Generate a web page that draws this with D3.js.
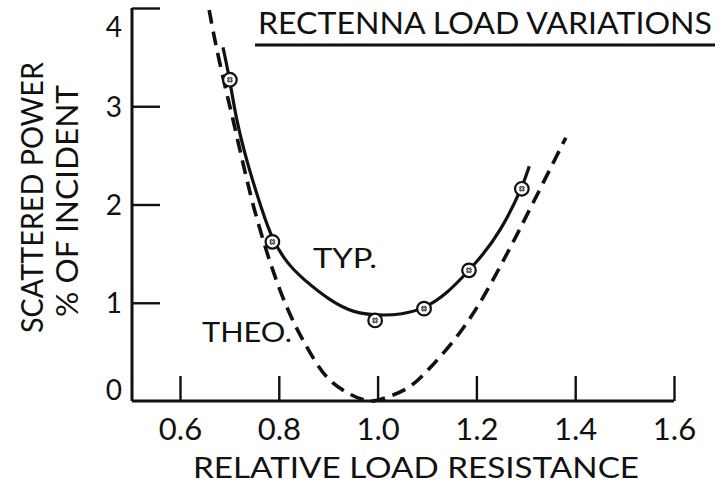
<!DOCTYPE html>
<html>
<head>
<meta charset="utf-8">
<script src="https://cdn.jsdelivr.net/npm/d3@7"></script>
<style>
  html, body { margin: 0; padding: 0; background: #fff; }
  svg { display: block; }
  text { font-family: Lato, "Noto Sans", sans-serif; fill: #111; }
</style>
</head>
<body>
<svg id="chart" width="725" height="485"></svg>
<script>
// ---- data ----
const xTicks = [0.6, 0.8, 1.0, 1.2, 1.4, 1.6];
const xTickLabels = ["0.6", "0.8", "1.0", "1.2", "1.4", "1.6"];
const yTicks = [0, 1, 2, 3, 4];
const yTickLabels = ["0", "1", "2", "3", "4"];

// TYP. (measured, solid fitted curve)
const typX = [0.687, 0.701, 0.713, 0.736, 0.766, 0.787, 0.817, 0.849, 0.904, 0.95, 1.0, 1.05, 1.094, 1.14, 1.185, 1.21, 1.248, 1.292, 1.307];
const typY = [3.60, 3.27, 2.88, 2.42, 1.94, 1.64, 1.40, 1.24, 1.02, 0.90, 0.87, 0.88, 0.94, 1.09, 1.33, 1.47, 1.72, 2.16, 2.39];

// measured data points (circles)
const ptX = [0.701, 0.787, 0.995, 1.094, 1.185, 1.292];
const ptY = [3.27, 1.62, 0.82, 0.94, 1.33, 2.16];

// THEO. (dashed curve)
const theoX = [0.659, 0.672, 0.690, 0.707, 0.728, 0.750, 0.782, 0.815, 0.849, 0.898, 0.944, 0.985, 1.02, 1.066, 1.112, 1.167, 1.207, 1.262, 1.315, 1.381];
const theoY = [3.98, 3.64, 3.23, 2.87, 2.41, 1.96, 1.42, 0.97, 0.62, 0.24, 0.07, 0.0, 0.04, 0.15, 0.37, 0.70, 1.00, 1.50, 2.02, 2.68];

const title = "RECTENNA LOAD VARIATIONS";
const xTitle = "RELATIVE LOAD RESISTANCE";
const yTitle1 = "SCATTERED POWER";
const yTitle2 = "% OF INCIDENT";
const typLabel = "TYP.";
const theoLabel = "THEO.";

// ---- drawing ----
const svg = d3.select("#chart");
const x = d3.scaleLinear().domain([0.6, 1.6]).range([180, 674]);
const y = d3.scaleLinear().domain([0, 4]).range([401, 8]);
const axisX0 = 132; // position of the y axis line

const smoothLine = d3.line().curve(d3.curveBasis);
const throughLine = d3.line().curve(d3.curveCatmullRom.alpha(0.5));

svg.append("path")
  .attr("d", throughLine(theoX.map((v, i) => [x(v), y(theoY[i])])))
  .attr("fill", "none").attr("stroke", "#111")
  .attr("stroke-width", 3.6)
  .attr("stroke-dasharray", "14,8");

svg.append("path")
  .attr("d", smoothLine(typX.map((v, i) => [x(v), y(typY[i])])))
  .attr("fill", "none").attr("stroke", "#111")
  .attr("stroke-width", 3.2);

// data point circles
const pts = svg.append("g");
ptX.forEach((v, i) => {
  const cx = x(v), cy = y(ptY[i]);
  pts.append("circle").attr("cx", cx).attr("cy", cy).attr("r", 6.8)
    .attr("fill", "#fff").attr("stroke", "#111").attr("stroke-width", 2.2);
  pts.append("path")
    .attr("transform", `translate(${cx},${cy}) rotate(45)`)
    .attr("d", d3.symbol(d3.symbolCross, 14)())
    .attr("fill", "none").attr("stroke", "#333").attr("stroke-width", 1);
});

// x axis
const gx = svg.append("g").attr("transform", `translate(0,${y(0)})`)
  .call(d3.axisBottom(x).tickValues(xTicks).tickSize(-25).tickSizeOuter(0)
    .tickFormat((d, i) => xTickLabels[i]));
gx.select(".domain").remove();
gx.selectAll(".tick line").attr("stroke", "#111").attr("stroke-width", 2.4);
gx.selectAll(".tick text").attr("y", 39).attr("dy", "0")
  .style("font-family", "Lato, sans-serif").style("font-size", "31px").attr("fill", "#111");
svg.append("line").attr("x1", axisX0).attr("x2", x(1.6))
  .attr("y1", y(0)).attr("y2", y(0)).attr("stroke", "#111").attr("stroke-width", 3);

// y axis
const gy = svg.append("g").attr("transform", `translate(${axisX0},0)`)
  .call(d3.axisLeft(y).tickValues(yTicks).tickSize(-28).tickSizeOuter(0)
    .tickFormat((d, i) => yTickLabels[i]));
gy.select(".domain").remove();
gy.selectAll(".tick line").attr("stroke", "#111").attr("stroke-width", 2.4);
gy.selectAll(".tick text").attr("x", -10)
  .attr("dy", d => d === 4 ? "1.0em" : (d === 0 ? "-0.05em" : "0.35em"))
  .style("font-family", "Lato, sans-serif").style("font-size", "28px").attr("fill", "#111");
gy.selectAll(".tick").filter(d => d === 0).select("line").remove();
svg.append("line").attr("x1", axisX0).attr("x2", axisX0)
  .attr("y1", y(4)).attr("y2", y(0)).attr("stroke", "#111").attr("stroke-width", 3);

// titles
svg.append("text").attr("x", 258).attr("y", 34)
  .attr("textLength", 454).attr("lengthAdjust", "spacingAndGlyphs")
  .style("font-size", "31px").text(title);
svg.append("line").attr("x1", 255).attr("x2", 715).attr("y1", 45).attr("y2", 45)
  .attr("stroke", "#111").attr("stroke-width", 3);

svg.append("text").attr("x", 193).attr("y", 478)
  .attr("textLength", 446).attr("lengthAdjust", "spacingAndGlyphs")
  .style("font-size", "29px").text(xTitle);

svg.append("text").attr("transform", "translate(43,333) rotate(-90)")
  .attr("textLength", 271).attr("lengthAdjust", "spacingAndGlyphs")
  .style("font-size", "30px").text(yTitle1);
svg.append("text").attr("transform", "translate(78,317) rotate(-90)")
  .attr("textLength", 232).attr("lengthAdjust", "spacingAndGlyphs")
  .style("font-size", "30px").text(yTitle2);

// curve labels
svg.append("text").attr("x", 313).attr("y", 268)
  .attr("textLength", 64).attr("lengthAdjust", "spacingAndGlyphs")
  .style("font-size", "27px").text(typLabel);
svg.append("text").attr("x", 202).attr("y", 342)
  .attr("textLength", 90).attr("lengthAdjust", "spacingAndGlyphs")
  .style("font-size", "27px").text(theoLabel);
</script>
</body>
</html>
